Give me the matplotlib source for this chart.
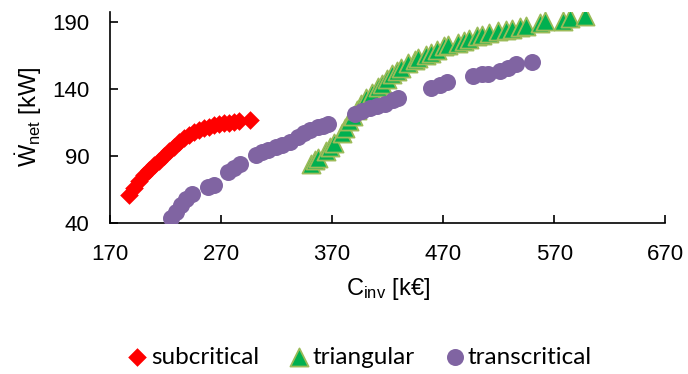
import numpy as np
import matplotlib
matplotlib.use("Agg")
import matplotlib.pyplot as plt

plt.rcParams['font.family'] = ['Liberation Sans', 'DejaVu Sans']
plt.rcParams['mathtext.fontset'] = 'custom'
plt.rcParams['mathtext.rm'] = 'Liberation Sans'
plt.rcParams['mathtext.it'] = 'Liberation Sans:italic'

# subcritical (C_inv [k€], W_net [kW])
sub_c = [187.1, 191.6, 196.1, 200.6, 205.1, 209.6, 214.1, 218.6, 223.2, 227.7, 232.2, 236.7,
         241.2, 245.7, 250.2, 254.7, 259.2, 263.7, 268.2, 272.7, 277.2, 281.7, 286.2, 296.1]
sub_w = [61, 66, 71, 75.5, 79.5, 83, 86.5, 90, 93.5, 97, 100.5, 103.5,
         106, 108, 109.5, 111, 112, 113, 114, 114.5, 115, 115.5, 116, 117]

# triangular
tri_c = [351.1, 354.7, 357.4, 364.6, 368.2, 371.8, 379.0, 381.7, 385.3, 388.9, 392.5, 396.1,
         400.6, 406.0, 411.4, 415.0, 419.5, 424.1, 428.6, 432.2, 438.5, 444.8, 447.5, 454.7,
         459.2, 464.6, 470.9, 474.5, 483.5, 488.9, 493.4, 500.6, 505.1, 511.4, 519.5, 526.8,
         532.2, 539.4, 544.8, 557.4, 561.9, 578.1, 584.4, 597.9]
tri_w = [84.25, 87.25, 88.75, 94, 97, 100, 107.5, 111.25, 116.5, 120.25, 124.75, 129.25,
         133.75, 137.5, 141.25, 143.5, 147.25, 151, 153.25, 155.5, 159.25, 161.5, 163, 165.25,
         166.75, 169, 172, 172.75, 174.25, 175.75, 177.25, 179.5, 180.25, 181.75, 183.25, 184,
         184.75, 186.25, 187, 189.25, 190.75, 190.75, 193, 194.5]

# transcritical
trans_c = [225.0, 229.5, 234.0, 238.5, 243.9, 258.3, 263.7, 276.3, 281.7, 287.1, 301.5, 306.9,
           312.3, 319.5, 325.0, 332.2, 339.4, 344.8, 350.2, 357.4, 361.9, 366.4, 390.7, 397.0,
           404.2, 410.5, 417.7, 425.0, 429.5, 459.2, 467.3, 473.6, 497.0, 505.1, 510.5, 521.4,
           528.6, 535.8, 550.2]
trans_w = [43.75, 48.25, 53.5, 58, 61.75, 67, 68.5, 78.25, 81.25, 84.25, 91, 93.25,
           94.75, 97, 98.5, 100.75, 104.5, 107.5, 109.75, 112, 112.75, 114.25, 121.75, 124,
           126.25, 127.75, 129.25, 132.25, 133.75, 140.5, 142.75, 145, 149.5, 151, 151, 153.25,
           155.5, 158.5, 160]

x_ticks = [170, 270, 370, 470, 570, 670]
y_ticks = [40, 90, 140, 190]

fig = plt.figure(figsize=(6.88, 3.74), dpi=100)
ax = fig.add_axes([0.160, 0.404, 0.807, 0.565])

ax.scatter(sub_c, sub_w, marker='D', s=90, color='#FF0000', linewidths=0, label='subcritical', zorder=3)
ax.scatter(tri_c, tri_w, marker='^', s=170, color='#00B050', edgecolors='#9BBB59', linewidths=1.3,
           label='triangular', zorder=3)
ax.scatter(trans_c, trans_w, marker='o', s=150, color='#8064A2', linewidths=0, label='transcritical', zorder=3)

ax.set_xlim(170, 670)
ax.set_ylim(40, 198)
ax.set_xticks(x_ticks)
ax.set_yticks(y_ticks)
ax.tick_params(direction='in', labelsize=16, length=6, width=1.2)
ax.tick_params(axis='x', pad=15)
ax.tick_params(axis='y', pad=15)
for sp in ['left', 'bottom']:
    ax.spines[sp].set_linewidth(1.2)
ax.spines['top'].set_visible(False)
ax.spines['right'].set_visible(False)
ax.set_xlabel(r'C$_{\mathrm{inv}}$ [k€]', fontsize=17, labelpad=8)
ax.set_ylabel(r'$\dot{\mathrm{W}}_{\mathrm{net}}$ [kW]', fontsize=17, labelpad=6)

fig.legend(loc='center', bbox_to_anchor=(0.523, 0.045), ncol=3, frameon=False,
           prop={'family': 'Lato', 'size': 17.5}, handlelength=0.8, handletextpad=0.15,
           columnspacing=1.25, markerscale=1.0)

fig.savefig('out.png', dpi=100)
